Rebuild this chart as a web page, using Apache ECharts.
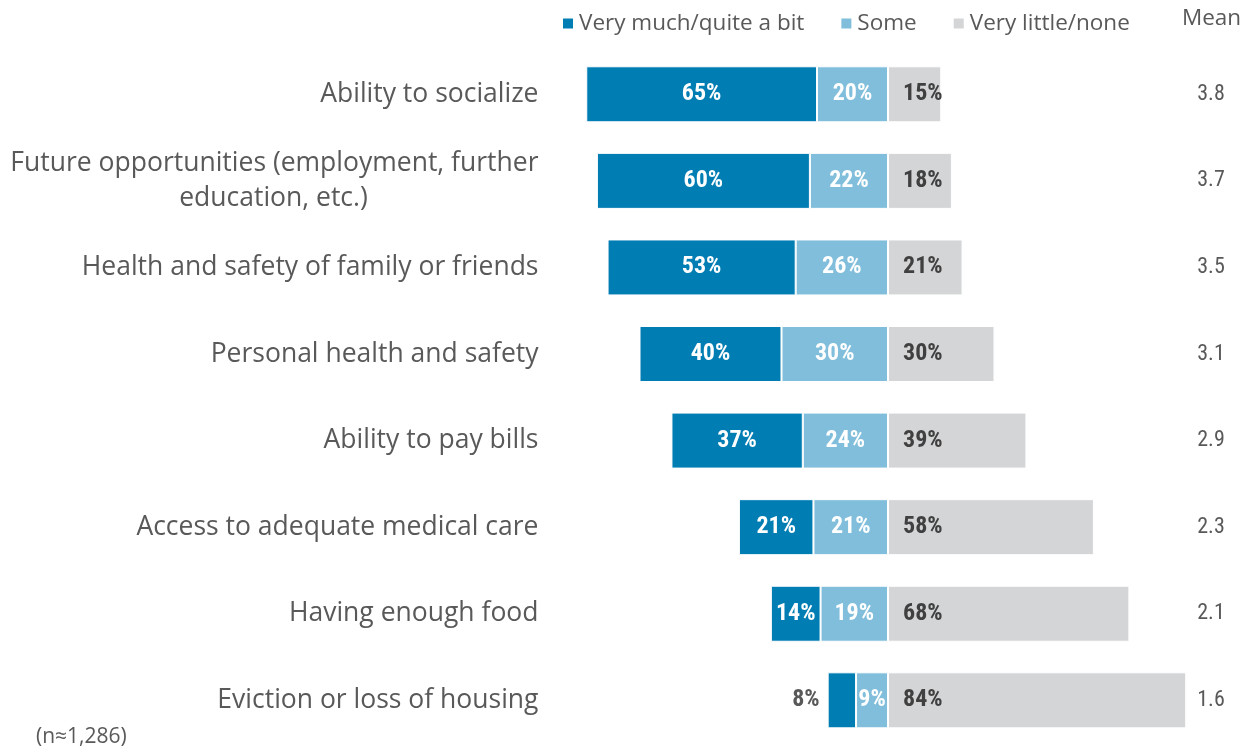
<!DOCTYPE html>
<html><head><meta charset="utf-8">
<script src="https://cdn.jsdelivr.net/npm/echarts@6/dist/echarts.min.js"></script>
<style>html,body{margin:0;padding:0;background:#fff}#c{width:1255px;height:750px}</style>
</head><body><div id="c"></div>
<script>
const categories = ["Ability to socialize","Future opportunities (employment, further\neducation, etc.)","Health and safety of family or friends","Personal health and safety","Ability to pay bills","Access to adequate medical care","Having enough food","Eviction or loss of housing"];
const veryMuch = [65,60,53,40,37,21,14,8];
const some = [20,22,26,30,24,21,19,9];
const veryLittle = [15,18,21,30,39,58,68,84];
const means = ["3.8","3.7","3.5","3.1","2.9","2.3","2.1","1.6"];
const seriesNames = ["Very much/quite a bit","Some","Very little/none"];

const C1='#007DB3', C2='#80BEDB', C3='#D4D5D7';
const narrow = '"Liberation Sans Narrow","Arial Narrow","Roboto Condensed",sans-serif';
const chart = echarts.init(document.getElementById('c'));
const barLabel = (color, pos, dist) => ({show:true, position:pos, distance:dist||0, color:color, fontFamily:narrow, fontWeight:'bold', fontSize:24,
  formatter:p=>Math.abs(p.value)+'%'});
chart.setOption({
  animation:false,
  legend:{data:seriesNames, left:556, top:7, itemWidth:12, itemHeight:12, itemGap:35, icon:'rect',
    textStyle:{fontFamily:'"Open Sans"', fontSize:22.5, color:'#595959'}},
  grid:{left:568.5, right:47.5, top:51, height:692.6},
  xAxis:{type:'value', min:-90, max:90, show:false},
  yAxis:[{type:'category', data:categories, inverse:true, axisLine:{show:false, onZero:false}, axisTick:{show:false},
    axisLabel:{margin:30, color:'#595959', fontFamily:'"Open Sans"', fontSize:26.5, lineHeight:35,
      formatter:v=>{ if(v.indexOf('\n')>=0){const a=v.split('\n'); return '{a|'+a[0]+'}\n{b|'+a[1]+'}';} return v; },
      rich:{a:{fontFamily:'"Open Sans"', fontSize:26.5, color:'#595959', lineHeight:35},
            b:{fontFamily:'"Open Sans"', fontSize:26.5, color:'#595959', lineHeight:35, width:530, align:'center'}}}},
   {type:'category', data:means, inverse:true, position:'right', axisLine:{show:false, onZero:false}, axisTick:{show:false},
    axisLabel:{margin:3.5, align:'center', color:'#595959', fontFamily:narrow, fontSize:22}}],
  series:[
    {name:seriesNames[1], type:'bar', stack:'all', barWidth:56, data:some.map(v=>-v),
     itemStyle:{color:C2, borderColor:'#fff', borderWidth:1}, label:barLabel('#fff','inside')},
    {name:seriesNames[0], type:'bar', stack:'all', barWidth:56,
     data:veryMuch.map((v,i)=> v<10 ? {value:-v, label:{position:'left', distance:8, color:'#595959'}} : -v),
     itemStyle:{color:C1, borderColor:'#fff', borderWidth:1}, label:barLabel('#fff','inside')},
    {name:seriesNames[2], type:'bar', stack:'all', barWidth:56, data:veryLittle,
     itemStyle:{color:C3, borderColor:'#fff', borderWidth:1}, label:barLabel('#404040','insideLeft',15)}
  ],
  graphic:[
    {type:'text', left:1182, top:7, style:{text:'Mean', fontFamily:'"Open Sans"', fontSize:22.5, fill:'#595959'}},
    {type:'text', left:36, top:727, style:{text:'(n≈1,286)', fontFamily:'"Open Sans"', fontSize:21, fill:'#595959'}}
  ]
});
</script></body></html>
